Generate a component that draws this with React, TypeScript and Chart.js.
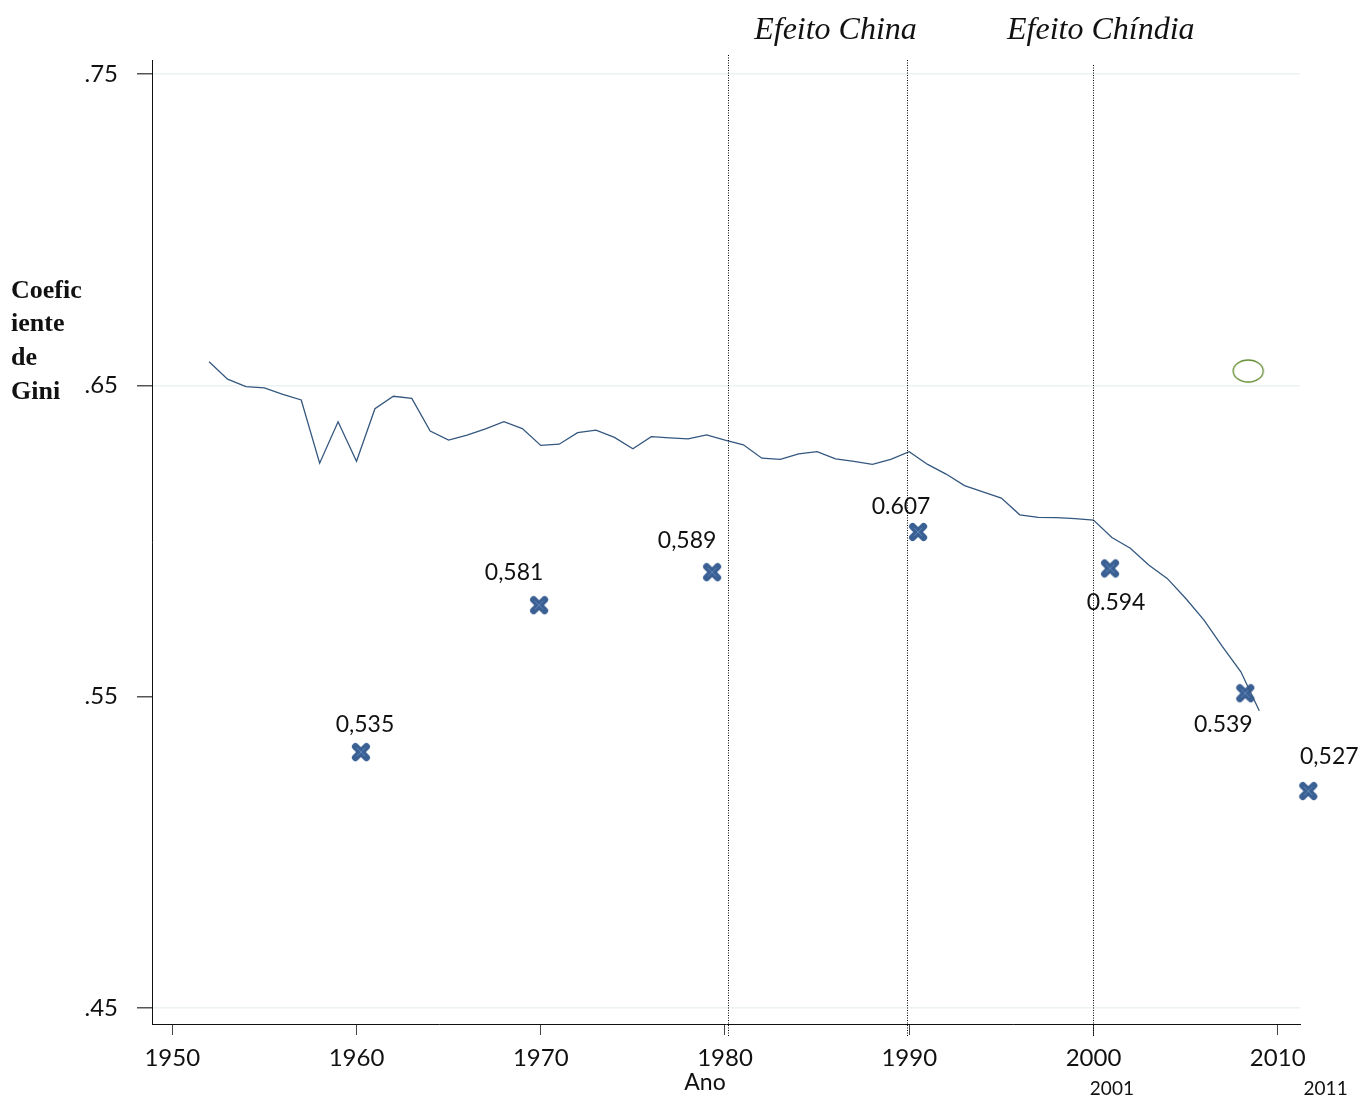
import React, { useEffect, useRef } from "react";
import { Chart, registerables } from "chart.js";

Chart.register(...registerables);

// ---- Data ----
const lineYears = [
  1952, 1953, 1954, 1955, 1956, 1957, 1958, 1959, 1960, 1961, 1962, 1963, 1964, 1965, 1966,
  1967, 1968, 1969, 1970, 1971, 1972, 1973, 1974, 1975, 1976, 1977, 1978, 1979, 1980, 1981,
  1982, 1983, 1984, 1985, 1986, 1987, 1988, 1989, 1990, 1991, 1992, 1993, 1994, 1995, 1996,
  1997, 1998, 1999, 2000, 2001, 2002, 2003, 2004, 2005, 2006, 2007, 2008, 2009,
];
const lineGini = [
  0.6576, 0.652, 0.6496, 0.6492, 0.6471, 0.6453, 0.625, 0.6383, 0.6256, 0.6425, 0.6465, 0.6458,
  0.6353, 0.6324, 0.634, 0.636, 0.6383, 0.6361, 0.6307, 0.6311, 0.6348, 0.6356, 0.6333, 0.6296,
  0.6335, 0.6331, 0.6328, 0.6341, 0.6324, 0.6309, 0.6266, 0.6262, 0.628, 0.6287, 0.6264, 0.6256,
  0.6246, 0.6262, 0.6287, 0.6246, 0.6215, 0.6178, 0.6158, 0.6138, 0.6084, 0.6076, 0.6075, 0.6072,
  0.6067, 0.6011, 0.5977, 0.5923, 0.588, 0.5816, 0.5746, 0.5661, 0.558, 0.5455,
];

const markerYears = [1960.24, 1969.91, 1979.3, 1990.48, 2000.9, 2008.24, 2011.66];
const markerGini = [0.5322, 0.5794, 0.59, 0.6029, 0.5912, 0.5511, 0.5197];
const markerLabels = ["0,535", "0,581", "0,589", "0.607", "0.594", "0.539", "0,527"];
// label offsets from marker (px): layout only
const markerLabelOffsets = [
  [4, -28], [-25, -33], [-25, -32], [-17, -25], [6, 34], [-22, 31], [21, -34],
];

const ellipseYear = [2008.4];
const ellipseGini = [0.6546];

const xTicks = [1950, 1960, 1970, 1980, 1990, 2000, 2010];
const yTicks = [0.45, 0.55, 0.65, 0.75];
const yTickLabels = [".45", ".55", ".65", ".75"];

const refLineYears = [1980.17, 1989.9, 2000.0];
const topLabels = ["Efeito China", "Efeito Chíndia"];
const topLabelYears = [1986.0, 2000.4];
const extraYearLabels = ["2001", "2011"];
const extraYearLabelYears = [2001.0, 2012.6];
const yTitleLines = ["Coefic", "iente", "de", "Gini"];
const xTitle = "Ano";

function makeMarkerCanvas(): HTMLCanvasElement {
  const c = document.createElement("canvas");
  c.width = 22;
  c.height = 22;
  const g = c.getContext("2d")!;
  g.lineCap = "round";
  g.strokeStyle = "#3a5f93";
  g.lineWidth = 7;
  g.beginPath();
  g.moveTo(5.5, 5.5);
  g.lineTo(16.5, 16.5);
  g.moveTo(16.5, 5.5);
  g.lineTo(5.5, 16.5);
  g.stroke();
  g.strokeStyle = "#5d86ba";
  g.lineWidth = 1;
  g.beginPath();
  g.moveTo(7, 7);
  g.lineTo(15, 15);
  g.moveTo(15, 7);
  g.lineTo(7, 15);
  g.stroke();
  return c;
}

function makeEllipseCanvas(): HTMLCanvasElement {
  const c = document.createElement("canvas");
  c.width = 34;
  c.height = 26;
  const g = c.getContext("2d")!;
  g.strokeStyle = "#5f8a2e";
  g.lineWidth = 1.3;
  g.beginPath();
  g.ellipse(17, 13, 15, 11, 0, 0, Math.PI * 2);
  g.stroke();
  return c;
}

const annotationsPlugin = {
  id: "annotations",
  afterDatasetsDraw(chart: any) {
    const ctx = chart.ctx;
    const xs = chart.scales.x;
    ctx.save();
    // dotted vertical lines
    ctx.strokeStyle = "#000";
    ctx.lineWidth = 1;
    ctx.setLineDash([1, 1.5]);
    refLineYears.forEach((yr, i) => {
      const px = Math.round(xs.getPixelForValue(yr)) + 0.5;
      ctx.beginPath();
      ctx.moveTo(px, 55 + i * 5);
      ctx.lineTo(px, 1037);
      ctx.stroke();
    });
    ctx.setLineDash([]);

    // marker value labels
    const meta = chart.getDatasetMeta(1);
    ctx.fillStyle = "#111";
    ctx.font = "23px Lato";
    ctx.textAlign = "center";
    ctx.textBaseline = "middle";
    meta.data.forEach((pt: any, i: number) => {
      const [dx, dy] = markerLabelOffsets[i];
      ctx.fillText(markerLabels[i], pt.x + dx, pt.y + dy);
    });

    // top labels
    ctx.font = "italic 32px 'Liberation Serif'";
    topLabels.forEach((t, i) => {
      ctx.fillText(t, xs.getPixelForValue(topLabelYears[i]), 31);
    });

    // y title
    ctx.font = "bold 26px 'Liberation Serif'";
    ctx.textAlign = "left";
    yTitleLines.forEach((t, i) => {
      ctx.fillText(t, 11, 291 + i * 33.7);
    });

    // x title
    ctx.font = "23px Lato";
    ctx.textAlign = "center";
    ctx.fillText(xTitle, 705, 1083);

    // extra year labels
    ctx.font = "19px Lato";
    extraYearLabels.forEach((t, i) => {
      ctx.fillText(t, xs.getPixelForValue(extraYearLabelYears[i]), 1089);
    });
    ctx.restore();
  },
};

export default function App() {
  const ref = useRef<HTMLCanvasElement>(null);
  useEffect(() => {
    const canvas = ref.current!;
    const markerImg = makeMarkerCanvas();
    const ellipseImg = makeEllipseCanvas();
    const chart = new Chart(canvas, {
      type: "line",
      data: {
        datasets: [
          {
            label: "Gini",
            data: lineYears.map((x, i) => ({ x, y: lineGini[i] })),
            borderColor: "#34577f",
            borderWidth: 1.3,
            pointRadius: 0,
            tension: 0,
            fill: false,
          },
          {
            label: "Censo",
            data: markerYears.map((x, i) => ({ x, y: markerGini[i] })),
            showLine: false,
            pointStyle: markerImg as any,
            pointRadius: 10,
            clip: false as any,
          },
          {
            label: "Elipse",
            data: ellipseYear.map((x, i) => ({ x, y: ellipseGini[i] })),
            showLine: false,
            pointStyle: ellipseImg as any,
            pointRadius: 10,
          },
        ],
      },
      options: {
        animation: false,
        responsive: false,
        events: [],
        layout: { padding: { top: 60, right: 59, left: 0, bottom: 0 } },
        plugins: { legend: { display: false }, tooltip: { enabled: false } },
        scales: {
          x: {
            type: "linear",
            min: 1948.9,
            max: 2011.21,
            afterBuildTicks: (s: any) => {
              s.ticks = xTicks.map((v) => ({ value: v }));
            },
            afterFit: (s: any) => {
              s.height = 74;
            },
            border: { color: "#111", width: 1 },
            grid: { drawOnChartArea: false, tickLength: 11, tickColor: "#444" },
            ticks: {
              color: "#111",
              font: { family: "Lato", size: 24 },
              padding: 9,
              maxRotation: 0,
              callback: (v: any) => String(v),
            },
          },
          y: {
            type: "linear",
            min: 0.44486,
            max: 0.7545,
            afterBuildTicks: (s: any) => {
              s.ticks = yTicks.map((v) => ({ value: v }));
            },
            afterFit: (s: any) => {
              s.width = 152;
            },
            border: { color: "#111", width: 1 },
            grid: {
              color: (c: any) =>
                c.tick && Math.abs(c.tick.value - 0.55) < 1e-6 ? "rgba(0,0,0,0)" : "#edf2f2",
              tickColor: "#555",
              tickLength: 15,
              lineWidth: 1.5,
            },
            ticks: {
              color: "#111",
              font: { family: "Lato", size: 24 },
              padding: 19,
              callback: (v: any) => {
                const i = yTicks.findIndex((t) => Math.abs(t - v) < 1e-6);
                return i >= 0 ? yTickLabels[i] : "";
              },
            },
          },
        },
      },
      plugins: [annotationsPlugin],
    });
    return () => chart.destroy();
  }, []);
  return (
    <div style={{ position: "absolute", left: 0, top: 0, width: 1359, height: 1098, background: "#fff" }}>
      <canvas ref={ref} width={1359} height={1098} style={{ width: 1359, height: 1098, display: "block" }} />
    </div>
  );
}
